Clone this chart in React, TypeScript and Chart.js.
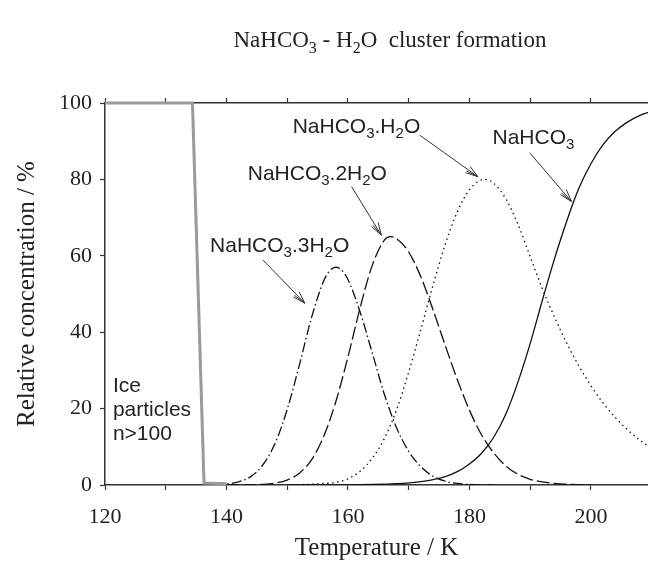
import React, { useEffect, useRef } from 'react';
import { Chart, registerables } from 'chart.js';

Chart.register(...registerables);

// ---- data ----
const iceT = [120, 134.4, 136.3, 140];
const iceV = [100, 100, 0.5, 0.3];

const triT = [138, 140, 142, 144, 146, 148, 150, 152, 154, 156, 157, 158, 159, 160, 162, 164, 166, 168, 170, 172, 174, 176, 178, 180, 182, 184];
const triV = [0.08, 0.27, 0.83, 2.2, 5.3, 10.9, 19.8, 31.4, 43.8, 53.4, 56.1, 57, 56.2, 53.8, 45.3, 34.6, 23.7, 15.0, 8.8, 4.8, 2.3, 1.0, 0.4, 0.15, 0.05, 0.02];

const diT = [140, 142, 144, 146, 148, 150, 152, 154, 156, 158, 160, 162, 164, 166, 167, 168, 170, 172, 174, 176, 178, 180, 182, 184, 186, 188, 190, 192, 194, 196, 198, 200];
const diV = [0.01, 0.03, 0.07, 0.17, 0.49, 1.3, 3.1, 6.6, 12.7, 21.8, 33.5, 46.4, 57.5, 64.1, 65, 64.5, 61.0, 54.5, 45.9, 36.6, 27.6, 19.6, 13.1, 8.4, 5.0, 2.8, 1.5, 0.8, 0.4, 0.2, 0.1, 0.05];

const monoT = [150, 152, 154, 156, 158, 160, 162, 164, 166, 168, 170, 172, 174, 176, 178, 180, 182.5, 184, 186, 188, 190, 192, 194, 196, 198, 200, 202, 204, 206, 208, 210];
const monoV = [0.05, 0.1, 0.2, 0.4, 0.7, 1.6, 3.6, 7.0, 12.2, 19.7, 29.6, 40.7, 52.3, 62.9, 71.5, 77.3, 80, 79.0, 74.9, 68.2, 59.8, 51.4, 44.0, 37.2, 31.2, 26.0, 21.5, 17.7, 14.5, 11.8, 9.6];

const anhT = [150, 155, 160, 164, 168, 170, 172, 174, 176, 178, 180, 182, 184, 186, 188, 190, 192, 194, 196, 198, 200, 202, 204, 206, 208, 210];
const anhV = [0.01, 0.02, 0.05, 0.15, 0.35, 0.55, 0.9, 1.4, 2.2, 3.5, 5.5, 8.3, 12.5, 18.6, 27, 37, 48.3, 59.2, 69, 77.6, 84.1, 89.1, 92.6, 95.0, 96.7, 97.8];

const xMin = 120;
const xMax = 209.4;
const yMin = 0;
const yMax = 100;

const titleText = 'NaHCO_3 - H_2O  cluster formation';
const xTitle = 'Temperature / K';
const yTitle = 'Relative concentration / %';

// annotation labels (data coordinates)
const labelTexts = ['NaHCO_3.3H_2O', 'NaHCO_3.2H_2O', 'NaHCO_3.H_2O', 'NaHCO_3'];
const labelAnchors = [[137.3, 61.0], [143.5, 79.8], [150.9, 92.1], [183.8, 89.2]];
const arrowFrom = [[146.0, 58.9], [160.6, 78.1], [171.8, 91.6], [189.9, 87.0]];
const arrowTo = [[152.9, 47.6], [165.5, 65.4], [181.4, 80.7], [196.8, 74.2]];
const iceLines = ['Ice', 'particles', 'n>100'];
const iceAnchor = [121.3, 24.4];

const pts = (t: number[], v: number[]) => t.map((x, i) => ({ x, y: v[i] }));

function drawRich(ctx: CanvasRenderingContext2D, text: string, x: number, y: number,
  family: string, size: number, subSize: number, subDy: number, align: 'left' | 'center') {
  const segs: { s: string; sub: boolean }[] = [];
  for (let i = 0; i < text.length; i++) {
    if (text[i] === '_' && i + 1 < text.length) {
      segs.push({ s: text[i + 1], sub: true });
      i++;
    } else {
      const last = segs[segs.length - 1];
      if (last && !last.sub) last.s += text[i];
      else segs.push({ s: text[i], sub: false });
    }
  }
  let total = 0;
  const widths = segs.map((sg) => {
    ctx.font = `${sg.sub ? subSize : size}px ${family}`;
    const w = ctx.measureText(sg.s).width;
    total += w;
    return w;
  });
  let cx = align === 'center' ? x - total / 2 : x;
  ctx.textAlign = 'left';
  ctx.textBaseline = 'alphabetic';
  segs.forEach((sg, i) => {
    ctx.font = `${sg.sub ? subSize : size}px ${family}`;
    ctx.fillText(sg.s, cx, sg.sub ? y + subDy : y);
    cx += widths[i];
  });
}

function drawArrow(ctx: CanvasRenderingContext2D, x1: number, y1: number, x2: number, y2: number) {
  const ang = Math.atan2(y2 - y1, x2 - x1);
  const head = 13;
  const spread = 0.3;
  ctx.beginPath();
  ctx.moveTo(x1, y1);
  ctx.lineTo(x2, y2);
  ctx.moveTo(x2 - head * Math.cos(ang - spread), y2 - head * Math.sin(ang - spread));
  ctx.lineTo(x2, y2);
  ctx.lineTo(x2 - head * Math.cos(ang + spread), y2 - head * Math.sin(ang + spread));
  ctx.moveTo(x2 - head * Math.cos(ang - spread / 2), y2 - head * Math.sin(ang - spread / 2));
  ctx.lineTo(x2, y2);
  ctx.stroke();
}

const overlay = {
  id: 'overlay',
  afterDraw(chart: any) {
    const { ctx } = chart;
    const xs = chart.scales.x;
    const ys = chart.scales.y;
    ctx.save();
    ctx.fillStyle = '#222';
    drawRich(ctx, titleText, 390, 47, "'Liberation Serif', serif", 23, 16, 6, 'center');

    ctx.strokeStyle = '#333';
    ctx.lineWidth = 1;
    labelTexts.forEach((t, i) => {
      const [lx, ly] = labelAnchors[i];
      drawRich(ctx, t, xs.getPixelForValue(lx), ys.getPixelForValue(ly), "'Liberation Sans', Arial, sans-serif", 21, 15, 5, 'left');
      const [fx, fy] = arrowFrom[i];
      const [tx, ty] = arrowTo[i];
      drawArrow(ctx, xs.getPixelForValue(fx), ys.getPixelForValue(fy), xs.getPixelForValue(tx), ys.getPixelForValue(ty));
    });

    ctx.font = "21px 'Liberation Sans', Arial, sans-serif";
    ctx.textAlign = 'left';
    ctx.textBaseline = 'alphabetic';
    const ix = xs.getPixelForValue(iceAnchor[0]);
    const iy = ys.getPixelForValue(iceAnchor[1]);
    iceLines.forEach((l, i) => ctx.fillText(l, ix, iy + i * 24));
    ctx.restore();
  },
};

export default function App() {
  const ref = useRef<HTMLCanvasElement | null>(null);
  useEffect(() => {
    if (!ref.current) return;
    const serif = "'Liberation Serif', 'Times New Roman', serif";
    const lineBase = { pointRadius: 0, borderColor: '#111', borderWidth: 1.3, fill: false, cubicInterpolationMode: 'monotone' as const };
    const chart = new Chart(ref.current, {
      type: 'line',
      data: {
        datasets: [
          { ...lineBase, label: 'Ice', data: pts(iceT, iceV), borderColor: '#9a9a9a', borderWidth: 3, cubicInterpolationMode: 'default', tension: 0, clip: false },
          { ...lineBase, label: 'NaHCO3.3H2O', data: pts(triT, triV), borderDash: [10, 3, 1.5, 3] },
          { ...lineBase, label: 'NaHCO3.2H2O', data: pts(diT, diV), borderDash: [13, 4] },
          { ...lineBase, label: 'NaHCO3.H2O', data: pts(monoT, monoV), borderDash: [1.5, 3.5] },
          { ...lineBase, label: 'NaHCO3', data: pts(anhT, anhV) },
        ] as any,
      },
      options: {
        animation: false,
        responsive: true,
        maintainAspectRatio: false,
        layout: { padding: 0 },
        plugins: { legend: { display: false }, tooltip: { enabled: false }, title: { display: false } },
        scales: {
          x: {
            type: 'linear', position: 'bottom', min: xMin, max: xMax,
            ticks: {
              stepSize: 10, includeBounds: false, autoSkip: false, maxRotation: 0,
              callback: (v: any) => (Number(v) % 20 === 0 ? String(v) : ''),
              font: { family: serif, size: 22 }, color: '#222', padding: 14,
            },
            grid: { drawOnChartArea: false, drawTicks: true, tickLength: 5, tickColor: '#333', tickWidth: 1.2 },
            border: { display: true, color: '#333', width: 1.5 },
            title: { display: true, text: xTitle, font: { family: serif, size: 25 }, color: '#222', padding: { top: 0, bottom: 10 } },
            afterFit: (s: any) => { s.height = 88; },
          },
          x2: {
            type: 'linear', position: 'top', min: xMin, max: xMax,
            ticks: { stepSize: 10, includeBounds: false, autoSkip: false, callback: () => '', color: 'rgba(0,0,0,0)' },
            grid: { drawOnChartArea: false, drawTicks: true, tickLength: 5, tickColor: '#333', tickWidth: 1.2 },
            border: { display: true, color: '#333', width: 1.5 },
            afterFit: (s: any) => { s.height = 103; },
          },
          y: {
            type: 'linear', position: 'left', min: yMin, max: yMax,
            ticks: { stepSize: 20, font: { family: serif, size: 22 }, color: '#222', padding: 8 },
            grid: { drawOnChartArea: false, drawTicks: true, tickLength: 5, tickColor: '#333', tickWidth: 1.2 },
            border: { display: true, color: '#333', width: 1.5 },
            title: { display: true, text: yTitle, font: { family: serif, size: 25 }, color: '#222', padding: { top: 12, bottom: 0 } },
            afterFit: (s: any) => { s.width = 105; },
          },
        },
      } as any,
      plugins: [overlay],
    });
    return () => chart.destroy();
  }, []);

  return (
    <div style={{ position: 'absolute', left: 0, top: 0, width: 648, height: 573, background: '#fff' }}>
      <canvas ref={ref} />
    </div>
  );
}
